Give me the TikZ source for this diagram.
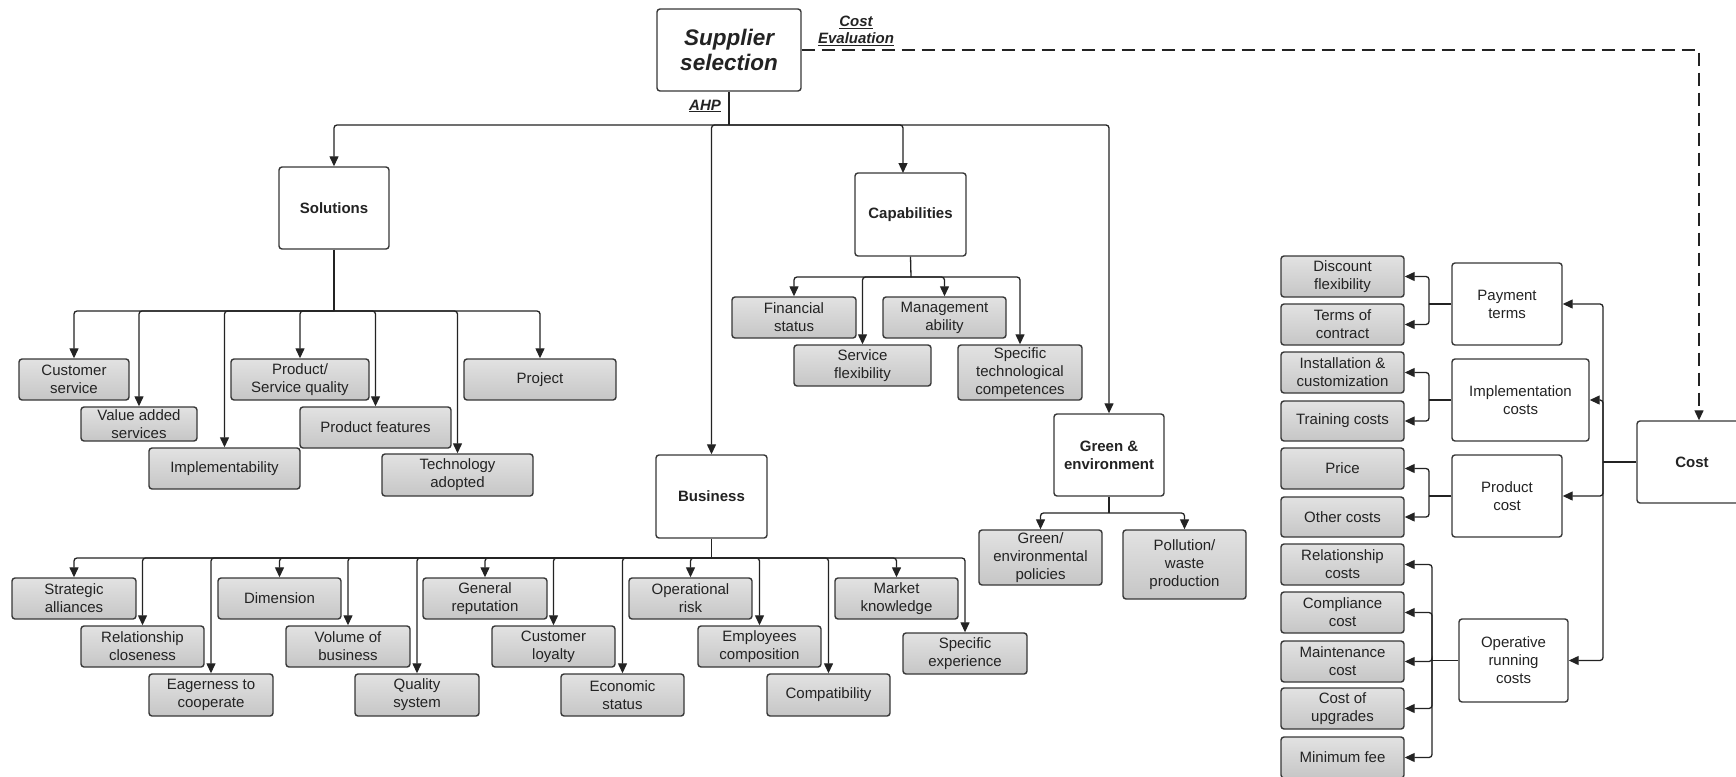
\documentclass[tikz,border=0pt]{standalone}
\usepackage{fontspec}
\setmainfont{Liberation Sans}
\usetikzlibrary{arrows.meta}
\definecolor{ink}{RGB}{35,35,35}
\definecolor{edge}{RGB}{55,55,55}
\definecolor{leaftop}{RGB}{226,226,226}
\definecolor{leafbot}{RGB}{198,198,198}
\tikzset{
  base/.style={draw=edge, line width=1.4pt, rounded corners=3pt, align=center,
    inner sep=0pt, text=ink, font=\fontsize{15}{18}\selectfont},
  cat/.style={base, fill=white},
  catb/.style={cat, font=\fontsize{15}{18}\selectfont\bfseries},
  leaf/.style={base, top color=leaftop, bottom color=leafbot},
  conn/.style={draw=ink, line width=1.3pt, rounded corners=3pt},
  arr/.style={conn, -{Triangle[length=10pt,width=9pt]}},
  dashconn/.style={draw=ink, line width=1.3pt, dash pattern=on 13pt off 7pt,
    -{Triangle[length=10pt,width=9pt]}},
  lbl/.style={text=ink, align=center, inner sep=0pt,
    font=\fontsize{15}{17}\selectfont\bfseries\itshape},
}
\newcommand{\ul}[1]{\underline{#1}}
\begin{document}
\begin{tikzpicture}[x=1pt, y=-1pt]
\useasboundingbox (0,0) rectangle (1736,776);
\clip (0,0) rectangle (1736,776);

% --- top of the hierarchy
\node[base, fill=white, minimum width=144pt, minimum height=82pt,
  font=\fontsize{22.5}{25.5}\selectfont\bfseries\itshape] (sup) at (729,50) {Supplier\\selection};
\node[lbl] (ce) at (856,31) {\ul{Cost}\\\ul{Evaluation}};
\node[lbl] (ahp) at (705,106) {\ul{AHP}};

% --- criteria
\node[catb, minimum width=110pt, minimum height=82pt] (sol) at (334,208) {Solutions};
\node[catb, minimum width=111pt, minimum height=83pt] (busn) at (711.5,496.5) {Business};
\node[catb, minimum width=111pt, minimum height=83pt] (cap) at (910.5,214.5) {Capabilities};
\node[catb, minimum width=110pt, minimum height=82pt] (grn) at (1109,455) {Green \&\\environment};
\node[catb, minimum width=110pt, minimum height=82pt] (cost) at (1692,462) {Cost};

% --- Solutions sub-criteria
\node[leaf, minimum width=110pt, minimum height=41pt] (cs) at (74,379.5) {Customer\\service};
\node[leaf, minimum width=116pt, minimum height=34pt] (vas) at (139,424) {Value added\\services};
\node[leaf, minimum width=151pt, minimum height=41pt] (imp) at (224.5,468.5) {Implementability};
\node[leaf, minimum width=138pt, minimum height=41pt] (psq) at (300,379.5) {Product/\\Service quality};
\node[leaf, minimum width=151pt, minimum height=41pt] (pf) at (375.5,427.5) {Product features};
\node[leaf, minimum width=151pt, minimum height=42pt] (ta) at (457.5,475) {Technology\\adopted};
\node[leaf, minimum width=152pt, minimum height=41pt] (prj) at (540,379.5) {Project};

% --- Capabilities sub-criteria
\node[leaf, minimum width=124pt, minimum height=41pt] (fs) at (794,317.5) {Financial\\status};
\node[leaf, minimum width=137pt, minimum height=41pt] (sf) at (862.5,365.5) {Service\\flexibility};
\node[leaf, minimum width=123pt, minimum height=41pt] (ma) at (944.5,317.5) {Management\\ability};
\node[leaf, minimum width=124pt, minimum height=55pt] (stc) at (1020,372.5) {Specific\\technological\\competences};

% --- Green & environment sub-criteria
\node[leaf, minimum width=123pt, minimum height=55pt] (gep) at (1040.5,557.5) {Green/\\environmental\\policies};
\node[leaf, minimum width=123pt, minimum height=69pt] (pwp) at (1184.5,564.5) {Pollution/\\waste\\production};

% --- Business sub-criteria
\node[leaf, minimum width=124pt, minimum height=41pt] (sa)  at (74,598.5)  {Strategic\\alliances};
\node[leaf, minimum width=123pt, minimum height=41pt] (rc)  at (142.5,646.5) {Relationship\\closeness};
\node[leaf, minimum width=124pt, minimum height=42pt] (ec)  at (211,695)   {Eagerness to\\cooperate};
\node[leaf, minimum width=123pt, minimum height=41pt] (dim) at (279.5,598.5) {Dimension};
\node[leaf, minimum width=124pt, minimum height=41pt] (vob) at (348,646.5) {Volume of\\business};
\node[leaf, minimum width=124pt, minimum height=42pt] (qs)  at (417,695)   {Quality\\system};
\node[leaf, minimum width=124pt, minimum height=41pt] (gr)  at (485,598.5) {General\\reputation};
\node[leaf, minimum width=123pt, minimum height=41pt] (cl)  at (553.5,646.5) {Customer\\loyalty};
\node[leaf, minimum width=123pt, minimum height=42pt] (es)  at (622.5,695) {Economic\\status};
\node[leaf, minimum width=123pt, minimum height=41pt] (opr) at (690.5,598.5) {Operational\\risk};
\node[leaf, minimum width=123pt, minimum height=41pt] (emc) at (759.5,646.5) {Employees\\composition};
\node[leaf, minimum width=123pt, minimum height=42pt] (cmp) at (828.5,695) {Compatibility};
\node[leaf, minimum width=123pt, minimum height=41pt] (mk)  at (896.5,598.5) {Market\\knowledge};
\node[leaf, minimum width=124pt, minimum height=41pt] (se)  at (965,653.5) {Specific\\experience};

% --- Cost breakdown
\node[cat, minimum width=110pt, minimum height=82pt] (pt)  at (1507,304)    {Payment\\terms};
\node[cat, minimum width=137pt, minimum height=82pt] (imc) at (1520.5,400)  {Implementation\\costs};
\node[cat, minimum width=110pt, minimum height=82pt] (pc)  at (1507,496)    {Product\\cost};
\node[cat, minimum width=109pt, minimum height=83pt] (orc) at (1513.5,660.5) {Operative\\running\\costs};

\node[leaf, minimum width=123pt, minimum height=41pt] (df)  at (1342.5,276.5) {Discount\\flexibility};
\node[leaf, minimum width=123pt, minimum height=41pt] (toc) at (1342.5,324.5) {Terms of\\contract};
\node[leaf, minimum width=123pt, minimum height=41pt] (inc) at (1342.5,372.5) {Installation \&\\customization};
\node[leaf, minimum width=123pt, minimum height=40pt] (trc) at (1342.5,421)   {Training costs};
\node[leaf, minimum width=123pt, minimum height=41pt] (pr)  at (1342.5,468.5) {Price};
\node[leaf, minimum width=123pt, minimum height=40pt] (oc)  at (1342.5,517)   {Other costs};
\node[leaf, minimum width=123pt, minimum height=41pt] (rlc) at (1342.5,564.5) {Relationship\\costs};
\node[leaf, minimum width=123pt, minimum height=41pt] (coc) at (1342.5,612.5) {Compliance\\cost};
\node[leaf, minimum width=123pt, minimum height=41pt] (mnc) at (1342.5,661.5) {Maintenance\\cost};
\node[leaf, minimum width=123pt, minimum height=41pt] (cup) at (1342.5,708.5) {Cost of\\upgrades};
\node[leaf, minimum width=123pt, minimum height=41pt] (mf)  at (1342.5,757.5) {Minimum fee};

% --- junction points of the connector trees
\coordinate (mb) at (729,125);
\coordinate (capin) at (903,173);
\coordinate (sb) at (334,311);
\coordinate (cb) at (911,277);
\coordinate (gb) at (1109,513);
\coordinate (bb) at (711.5,558);
\coordinate (ck) at (1699,50);
\coordinate (cj) at (1603,462);
\coordinate (ptj) at (1429,304);
\coordinate (icj) at (1429,400);
\coordinate (pcj) at (1429,496);
\coordinate (orj) at (1432,660.5);

% main split
\draw[conn] (sup.south) -- (mb);
\foreach \t in {sol,busn,grn} \draw[arr] (mb) -| (\t.north);
\draw[arr] (mb) -| (capin);

% cost evaluation branch
\draw[dashconn] (sup.east) -- (ck) -- (ck |- cost.north);

% Solutions
\draw[conn] (sol.south) -- (sb);
\foreach \t in {cs,vas,imp,psq,pf,ta,prj} \draw[arr] (sb) -| (\t.north);

% Capabilities
\draw[conn] (cap.south) -- (cb);
\foreach \t in {fs,sf,ma,stc} \draw[arr] (cb) -| (\t.north);

% Green & environment
\draw[conn] (grn.south) -- (gb);
\foreach \t in {gep,pwp} \draw[arr] (gb) -| (\t.north);

% Business
\draw[conn] (busn.south) -- (bb);
\foreach \t in {sa,rc,ec,dim,vob,qs,gr,cl,es,opr,emc,cmp,mk,se} \draw[arr] (bb) -| (\t.north);

% Cost
\draw[conn] (cost.west) -- (cj);
\foreach \t in {pt,imc,pc,orc} \draw[arr] (cj) |- (\t.east);

\draw[conn] (pt.west) -- (ptj);
\foreach \t in {df,toc} \draw[arr] (ptj) |- (\t.east);
\draw[conn] (imc.west) -- (icj);
\foreach \t in {inc,trc} \draw[arr] (icj) |- (\t.east);
\draw[conn] (pc.west) -- (pcj);
\foreach \t in {pr,oc} \draw[arr] (pcj) |- (\t.east);
\draw[conn] (orc.west) -- (orj);
\foreach \t in {rlc,coc,mnc,cup,mf} \draw[arr] (orj) |- (\t.east);
\end{tikzpicture}
\end{document}
